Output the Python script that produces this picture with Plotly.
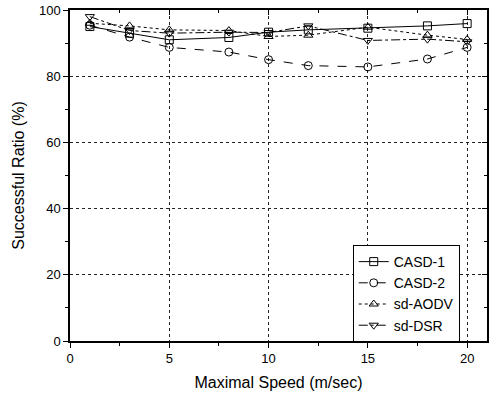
import plotly.graph_objects as go

speed = [1, 3, 5, 8, 10, 12, 15, 18, 20]
casd1 = [95.0, 93.0, 91.0, 91.7, 93.3, 94.0, 94.5, 95.2, 95.9]
casd2 = [95.4, 91.8, 88.7, 87.3, 85.0, 83.2, 82.8, 85.2, 88.7]
sd_aodv = [96.0, 95.2, 94.0, 93.8, 92.0, 92.4, 94.8, 92.4, 91.1]
sd_dsr = [98.0, 93.8, 93.0, 93.3, 93.2, 95.2, 90.8, 91.2, 90.4]

names = ["CASD-1", "CASD-2", "sd-AODV", "sd-DSR"]
series = [casd1, casd2, sd_aodv, sd_dsr]
dashes = ["solid", "dash", "dot", "dashdot"]
symbols = ["square-open", "circle-open", "triangle-up-open", "triangle-down-open"]

fig = go.Figure()
for n, s, d, m in zip(names, series, dashes, symbols):
    fig.add_trace(go.Scatter(
        x=speed, y=s, name=n, mode="lines+markers",
        line=dict(color="black", width=1, dash=d),
        marker=dict(symbol=m, size=8, color="black", line=dict(width=1, color="black")),
    ))

fig.add_trace(go.Scatter(x=[0], y=[0], xaxis="x2", yaxis="y2", showlegend=False,
                         mode="markers", marker=dict(opacity=0), hoverinfo="skip"))

font = "Liberation Sans, Arial, sans-serif"
fig.update_layout(
    width=491, height=399,
    margin=dict(l=70, r=4, t=10, b=58, autoexpand=False),
    paper_bgcolor="white", plot_bgcolor="white",
    font=dict(family=font, size=13, color="black"),
    showlegend=True,
    legend=dict(x=0.678, y=0.29, xanchor="left", yanchor="top",
                bordercolor="black", borderwidth=1, bgcolor="white",
                font=dict(size=14, family=font), tracegroupgap=0,
                itemwidth=30),
    xaxis=dict(range=[0, 21], tickvals=[0, 5, 10, 15, 20], ticks="outside",
               ticklen=5, tickwidth=1, tickcolor="black", automargin=False,
               minor=dict(tickvals=[2.5, 7.5, 12.5, 17.5], ticks="outside", ticklen=3, tickcolor="black"),
               showline=True, linecolor="black", linewidth=1.5,
               showgrid=True, gridcolor="#222", gridwidth=1, griddash="dot",
               zeroline=False,
               title=dict(text="Maximal Speed (m/sec)", font=dict(size=16), standoff=11)),
    yaxis=dict(range=[0, 100], tickvals=[0, 20, 40, 60, 80, 100], ticks="outside",
               ticklen=5, tickwidth=1, tickcolor="black", automargin=False,
               minor=dict(tickvals=[10, 30, 50, 70, 90], ticks="outside", ticklen=3, tickcolor="black"),
               showline=True, linecolor="black", linewidth=1.5,
               showgrid=True, gridcolor="#222", gridwidth=1, griddash="dot",
               zeroline=False,
               title=dict(text="Successful Ratio (%)", font=dict(size=16), standoff=10)),
    xaxis2=dict(overlaying="x", side="top", range=[0, 21], tickvals=[0, 5, 10, 15, 20],
                ticks="inside", ticklen=5, tickcolor="black", showticklabels=False, automargin=False,
                minor=dict(tickvals=[2.5, 7.5, 12.5, 17.5], ticks="inside", ticklen=3, tickcolor="black"),
                showline=True, linecolor="black", linewidth=1.5, showgrid=False, zeroline=False),
    yaxis2=dict(overlaying="y", side="right", range=[0, 100], tickvals=[0, 20, 40, 60, 80, 100],
                ticks="inside", ticklen=5, tickcolor="black", showticklabels=False, automargin=False,
                minor=dict(tickvals=[10, 30, 50, 70, 90], ticks="inside", ticklen=3, tickcolor="black"),
                showline=True, linecolor="black", linewidth=1.5, showgrid=False, zeroline=False),
)

fig.write_html("out.html", config={"displayModeBar": False},
               post_script="document.body.style.margin='0';")
